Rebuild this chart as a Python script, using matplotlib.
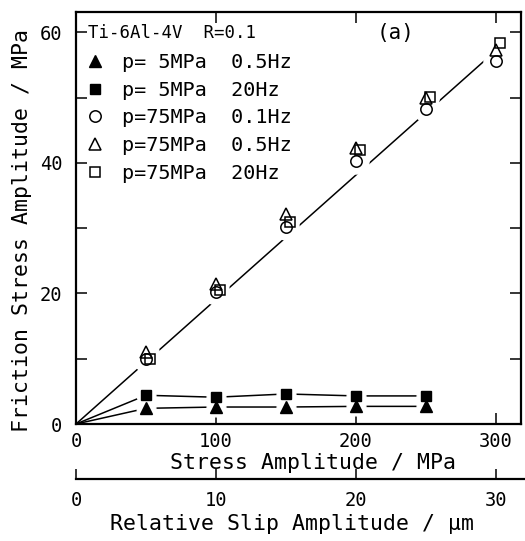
import matplotlib
matplotlib.use("Agg")
import matplotlib.pyplot as plt

plt.rcParams['font.family'] = ['DejaVu Sans Mono', 'DejaVu Sans']

# ---- data ----
stress_open = [50, 100, 150, 200, 250, 300]
circ_75_01 = [9.9, 20.2, 30.2, 40.3, 48.2, 55.6]
tri_75_05 = [11.1, 21.4, 32.1, 42.3, 49.9, 57.3]
sq_75_20 = [9.9, 20.5, 31.0, 42.0, 50.1, 58.3]

stress_filled = [50, 100, 150, 200, 250]
tri_5_05 = [2.4, 2.6, 2.6, 2.7, 2.7]
sq_5_20 = [4.4, 4.1, 4.6, 4.3, 4.3]

fit_x = [0, 300]
fit_y = [0, 57.2]

x_ticks = [0, 100, 200, 300]
y_ticks = [0, 20, 40, 60]
slip_ticks = [0, 10, 20, 30]

legend_labels = ["p= 5MPa  0.5Hz", "p= 5MPa  20Hz", "p=75MPa  0.1Hz",
                 "p=75MPa  0.5Hz", "p=75MPa  20Hz"]
header = "Ti-6Al-4V  R=0.1"
panel = "(a)"

W, H = 525, 541
fig = plt.figure(figsize=(W / 100, H / 100), dpi=100)

L, R, T, B = 76, 521, 12, 424
ax = fig.add_axes([L / W, 1 - B / H, (R - L) / W, (B - T) / H])
xmax = (R - L) / 1.4
ymax = (B - T) / 6.53
ax.set_xlim(0, xmax)
ax.set_ylim(0, ymax)

lw = 1.1
ax.plot(fit_x, fit_y, color='black', lw=lw, zorder=1)
ax.plot([0] + stress_filled, [0] + tri_5_05, color='black', lw=lw, zorder=1)
ax.plot([0] + stress_filled, [0] + sq_5_20, color='black', lw=lw, zorder=1)

# white gaps around markers
for ys in (circ_75_01, tri_75_05, sq_75_20):
    ax.plot(stress_open, ys, ls='none', marker='o', ms=18, mfc='white', mec='white', zorder=2)
for ys in (tri_5_05, sq_5_20):
    ax.plot(stress_filled, ys, ls='none', marker='o', ms=13.5, mfc='white', mec='white', zorder=2)

h1, = ax.plot(stress_filled, tri_5_05, ls='none', marker='^', ms=8.8, mfc='black', mec='black', zorder=3)
h2, = ax.plot(stress_filled, sq_5_20, ls='none', marker='s', ms=7.0, mfc='black', mec='black', zorder=3)
h3, = ax.plot(stress_open, circ_75_01, ls='none', marker='o', ms=8.2, mfc='white', mec='black', mew=1.1, zorder=3)
h4, = ax.plot(stress_open, tri_75_05, ls='none', marker='^', ms=9.0, mfc='none', mec='black', mew=1.1, zorder=4)
h5, = ax.plot([x + 3 for x in stress_open], sq_75_20, ls='none', marker='s', ms=7.3, mfc='none', mec='black', mew=1.1, zorder=4)

for s in ax.spines.values():
    s.set_linewidth(1.6)

ax.set_xticks(x_ticks)
ax.set_yticks(y_ticks)
ax.set_yticks([10, 30, 50], minor=True)
ax.tick_params(axis='both', which='both', direction='in', top=True, right=True,
               length=8, width=1.1, labelsize=13.5)
ax.tick_params(axis='x', pad=6)
ax.tick_params(axis='y', pad=10)
ax.set_xlabel("Stress Amplitude / MPa", fontsize=15.5, va='center')
ax.xaxis.set_label_coords((313 - L) / (R - L), (B - 463) / (B - T))
ax.set_ylabel("Friction Stress Amplitude / MPa", fontsize=15.5, va='center')
ax.yaxis.set_label_coords((22 - L) / (R - L), (B - 231) / (B - T))

ax.text((88 - L) / 1.4, (B - 33) / 6.53, header, fontsize=12.5, va='center', ha='left')
ax.text((377 - L) / 1.4, (B - 33) / 6.53, panel, fontsize=15, va='center', ha='left')

ax.legend([h1, h2, h3, h4, h5], legend_labels, loc='upper left',
          bbox_to_anchor=((85 - L) / (R - L), (B - 53) / (B - T)), frameon=False,
          fontsize=14.5, handlelength=1.0, handletextpad=0.85, labelspacing=0.43,
          borderaxespad=0, borderpad=0)

# secondary slip axis
ax2 = fig.add_axes([L / W, 1 - 479 / H, (W - L) / W, 0.001])
ax2.set_xlim(0, (W - L) / 14.0)
ax2.set_ylim(0, 1)
for k in ('top', 'left', 'right'):
    ax2.spines[k].set_visible(False)
ax2.spines['bottom'].set_linewidth(1.6)
ax2.set_yticks([])
ax2.set_xticks(slip_ticks)
ax2.tick_params(axis='x', direction='in', length=7, width=1.1, labelsize=13.5, pad=9)
ax2.patch.set_alpha(0)
ax2.set_xlabel("Relative Slip Amplitude / µm", fontsize=15.5, va='center')
ax2.xaxis.set_label_coords(292 / W, 1 - 524 / H, transform=fig.transFigure)

fig.savefig("out.png", dpi=100)
